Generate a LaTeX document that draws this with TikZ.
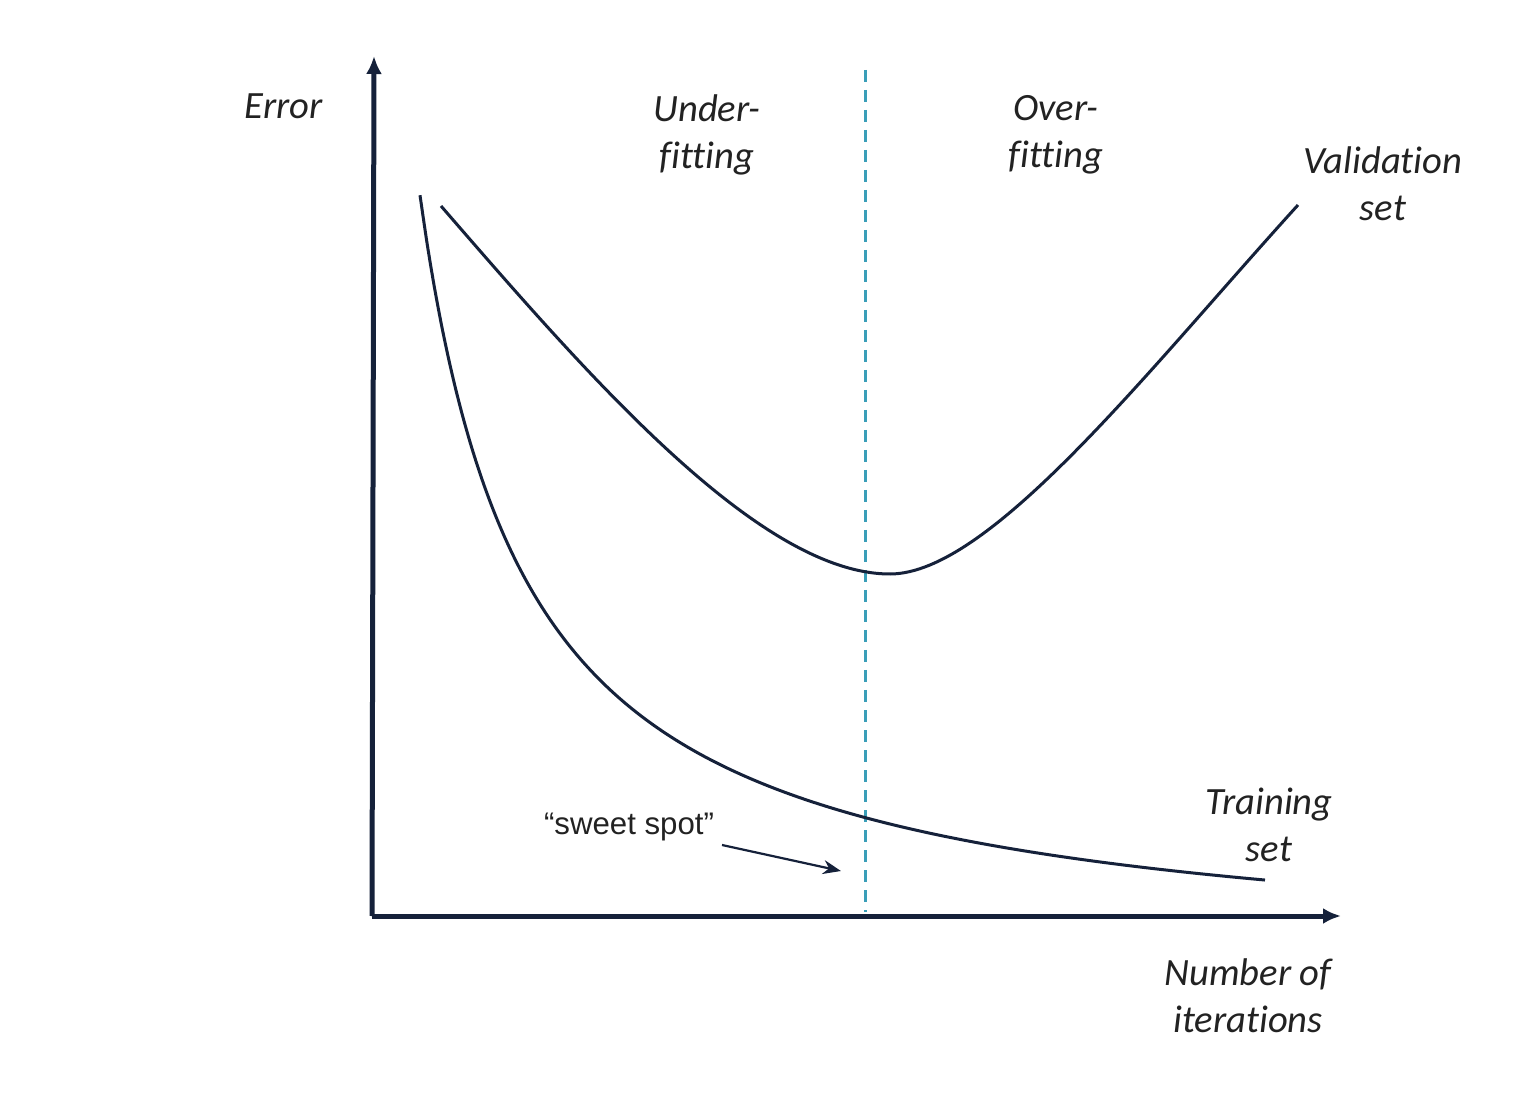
\documentclass[tikz,border=0pt]{standalone}
\usepackage{fontspec}
\setmainfont[Ligatures=NoCommon]{Carlito}
\newfontfamily\labelsans{Liberation Sans}
\usetikzlibrary{arrows.meta}
\definecolor{navy}{HTML}{15213A}
\definecolor{teal}{HTML}{3A9EB8}
\definecolor{txt}{HTML}{222222}
\tikzset{
  axis/.style={line width=2.5pt, draw=navy, -{Latex[length=9pt,width=8pt]}},
  curve/.style={line width=1.5pt, draw=navy},
  divider/.style={line width=1.5pt, draw=teal, dash pattern=on 6pt off 4pt},
  lbl/.style={font=\fontsize{19.3}{23.5}\selectfont\itshape, text=txt, align=center, inner sep=0pt},
  sweetlbl/.style={font=\labelsans\fontsize{15.6}{17}\selectfont, text=txt, inner sep=0pt},
  pointer/.style={line width=1.1pt, draw=navy, -{Stealth[length=9pt,width=7pt]}}
}
\begin{document}
\begin{tikzpicture}[x=0.5pt,y=-0.5pt]
\path[use as bounding box, fill=white] (0,0) rectangle (1539,1118);
% axes
\coordinate (origin) at (372,916);
\coordinate (ytip) at (374,56);
\coordinate (xtip) at (1341,916);
\draw[axis] (origin) -- (ytip);
\draw[axis] (origin) -- (xtip);
% divider
\coordinate (dtop) at (865,70);
\coordinate (dbot) at (865,912);
\draw[divider] (dtop) -- (dbot);
% training curve
\draw[curve] plot[domain=420:1265, samples=120, smooth] (\x, {966.1 - 818.69/((\x-313.8)/100)});
% validation curve
\coordinate (vstart) at (441,206);
\coordinate (vmin) at (890,574);
\coordinate (vend) at (1298,205);
\draw[curve] (vstart) .. controls (590,378) and (760,574) .. (vmin)
  .. controls (990,574) and (1148,370) .. (vend);
% labels
\node[lbl] (error) at (284,106) {Error};
\node[lbl] (under) at (707,135) {Under-\\fitting};
\node[lbl] (over) at (1056,135) {Over-\\fitting};
\node[lbl] (valid) at (1383,184) {Validation\\set};
\node[lbl] (train) at (1269,825) {Training\\set};
\node[lbl] (iter) at (1248,996) {Number of\\iterations};
\node[sweetlbl] (sweet) at (629,827) {“sweet spot”};
\coordinate (sweetstart) at (722,845);
\coordinate (sweettip) at (841,871);
\draw[pointer] (sweetstart) -- (sweettip);
\end{tikzpicture}
\end{document}
